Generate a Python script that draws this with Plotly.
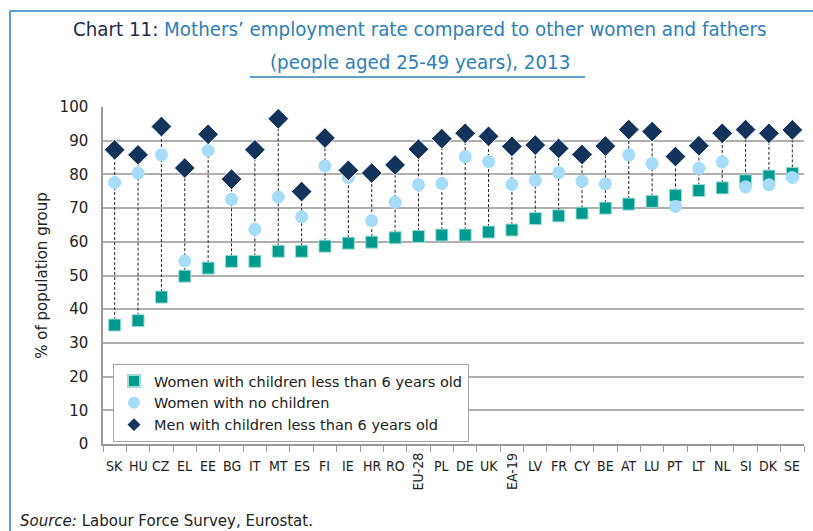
import plotly.graph_objects as go

# Employment rates (%) of people aged 25-49, 2013
countries = ["SK", "HU", "CZ", "EL", "EE", "BG", "IT", "MT", "ES", "FI",
             "IE", "HR", "RO", "EU-28", "PL", "DE", "UK", "EA-19", "LV", "FR",
             "CY", "BE", "AT", "LU", "PT", "LT", "NL", "SI", "DK", "SE"]
mothers_u6 = [35.3, 36.6, 43.6, 49.8, 52.2, 54.2, 54.2, 57.2, 57.2, 58.7,
              59.6, 59.9, 61.2, 61.6, 62.0, 62.0, 62.9, 63.5, 66.9, 67.7,
              68.5, 70.0, 71.2, 72.0, 73.8, 75.2, 76.0, 78.1, 79.5, 80.3]
women_no_children = [77.6, 80.4, 85.8, 54.3, 87.1, 72.6, 63.7, 73.3, 67.4, 82.5,
                     79.1, 66.3, 71.7, 76.9, 77.3, 85.3, 83.8, 77.0, 78.2, 80.5,
                     78.0, 77.2, 85.8, 83.2, 70.5, 81.8, 83.7, 76.3, 76.9, 79.1]
fathers_u6 = [87.3, 85.8, 94.2, 81.9, 91.9, 78.6, 87.3, 96.5, 74.9, 90.8,
              81.2, 80.4, 82.8, 87.5, 90.6, 92.2, 91.3, 88.3, 88.7, 87.7,
              85.9, 88.4, 93.3, 92.7, 85.3, 88.5, 92.2, 93.3, 92.2, 93.2]
y_ticks = list(range(0, 101, 10))

series_names = ["Women with children less than 6 years old",
                "Women with no children",
                "Men with children less than 6 years old"]

TEAL = "#009a8e"
LIGHT_BLUE = "#a6dcf7"
NAVY = "#14335a"
TITLE_BLUE = "#2f80b8"
FRAME_BLUE = "#5aa0cc"
NARROW = "DejaVu Sans Condensed, Liberation Sans Narrow, DejaVu Sans, sans-serif"

# Plot-area geometry in pixels (used to place frame/title elements in paper units)
W, H = 813, 531
L, R, T, B = 103, 9, 107, 87
PW, PH = W - L - R, H - T - B


def px_x(px):
    return (px - L) / PW


def px_y(py):
    return (H - B - py) / PH


# dotted range line per country, from lowest to highest of the three rates
rx, ry = [], []
for c, a, b, d in zip(countries, mothers_u6, women_no_children, fathers_u6):
    rx += [c, c, None]
    ry += [min(a, b, d), max(a, b, d), None]

fig = go.Figure()
fig.add_trace(go.Scatter(x=rx, y=ry, mode="lines", showlegend=False, hoverinfo="skip",
                         line=dict(color="#222222", width=1, dash="3px,2px")))
fig.add_trace(go.Scatter(x=countries, y=mothers_u6, mode="markers", name=series_names[0],
                         marker=dict(symbol="square", size=12, color=TEAL,
                                     line=dict(color="#9fdcd4", width=1))))
fig.add_trace(go.Scatter(x=countries, y=women_no_children, mode="markers", name=series_names[1],
                         marker=dict(symbol="circle", size=13, color=LIGHT_BLUE,
                                     line=dict(width=0))))
fig.add_trace(go.Scatter(x=countries, y=fathers_u6, mode="markers", name=series_names[2],
                         marker=dict(symbol="diamond", size=16, color=NAVY,
                                     line=dict(color="white", width=1))))

# country labels below the axis (aggregates written vertically)
annotations = []
for c in countries:
    rotated = c in ("EU-28", "EA-19")
    annotations.append(dict(
        x=c, xref="x", y=0, yref="paper", text=c, showarrow=False,
        textangle=-90 if rotated else 0,
        xanchor="center", yanchor="middle",
        yshift=-27 if rotated else -22,
        font=dict(family=NARROW, size=14, color="#222222")))

annotations += [
    dict(x=px_x(420), y=px_y(29), xref="paper", yref="paper", showarrow=False,
         xanchor="center", yanchor="middle",
         text=("<span style='color:#1b2b4b'>Chart 11:</span> "
               "Mothers\u2019 employment rate compared to other women and fathers"),
         font=dict(family=NARROW, size=20.3, color=TITLE_BLUE)),
    dict(x=px_x(420), y=px_y(62), xref="paper", yref="paper", showarrow=False,
         xanchor="center", yanchor="middle",
         text="(people aged 25-49 years), 2013",
         font=dict(family=NARROW, size=20.3, color=TITLE_BLUE)),
    dict(x=px_x(18), y=px_y(521), xref="paper", yref="paper", showarrow=False,
         xanchor="left", yanchor="middle",
         text="<i>Source:</i> Labour Force Survey, Eurostat.",
         font=dict(family="DejaVu Sans, sans-serif", size=15, color="#222222")),
]

shapes = [
    # outer frame (left and top edges)
    dict(type="line", xref="paper", yref="paper", x0=px_x(10), x1=px_x(10),
         y0=px_y(11), y1=px_y(540), line=dict(color=FRAME_BLUE, width=2)),
    dict(type="line", xref="paper", yref="paper", x0=px_x(10), x1=px_x(820),
         y0=px_y(11), y1=px_y(11), line=dict(color=FRAME_BLUE, width=2)),
    # title underline
    dict(type="line", xref="paper", yref="paper", x0=px_x(250), x1=px_x(585),
         y0=px_y(77), y1=px_y(77), line=dict(color=TITLE_BLUE, width=1.5)),
]

fig.update_layout(
    width=W, height=H,
    margin=dict(l=L, r=R, t=T, b=B),
    paper_bgcolor="white", plot_bgcolor="white",
    font=dict(family="DejaVu Sans, sans-serif", size=15, color="#222222"),
    showlegend=True,
    legend=dict(x=px_x(113), y=px_y(364), xanchor="left", yanchor="top",
                bgcolor="white", bordercolor="#a6a6a6", borderwidth=1,
                font=dict(family="DejaVu Sans, sans-serif", size=14.5, color="#222222"),
                tracegroupgap=0, itemsizing="constant", itemwidth=30),
    annotations=annotations,
    shapes=shapes,
)
fig.update_xaxes(
    type="category", categoryorder="array", categoryarray=countries,
    range=[-0.5, len(countries) - 0.5],
    showgrid=False, showline=True, linecolor="#999999", linewidth=1.5,
    ticks="outside", tickson="boundaries", ticklen=6, tickcolor="#999999",
    showticklabels=False, zeroline=False,
)
fig.update_yaxes(
    range=[0, 100], tickvals=y_ticks, ticktext=[str(v) for v in y_ticks],
    showgrid=True, gridcolor="#b0b0b0", gridwidth=1.5,
    showline=True, linecolor="#999999", linewidth=1.5,
    ticks="", ticklabelstandoff=10, zeroline=False,
    tickfont=dict(family="DejaVu Sans, sans-serif", size=15, color="#222222"),
    title=dict(text="% of population group", standoff=8,
               font=dict(family="DejaVu Sans, sans-serif", size=15, color="#222222")),
)

fig.write_html("out.html")
